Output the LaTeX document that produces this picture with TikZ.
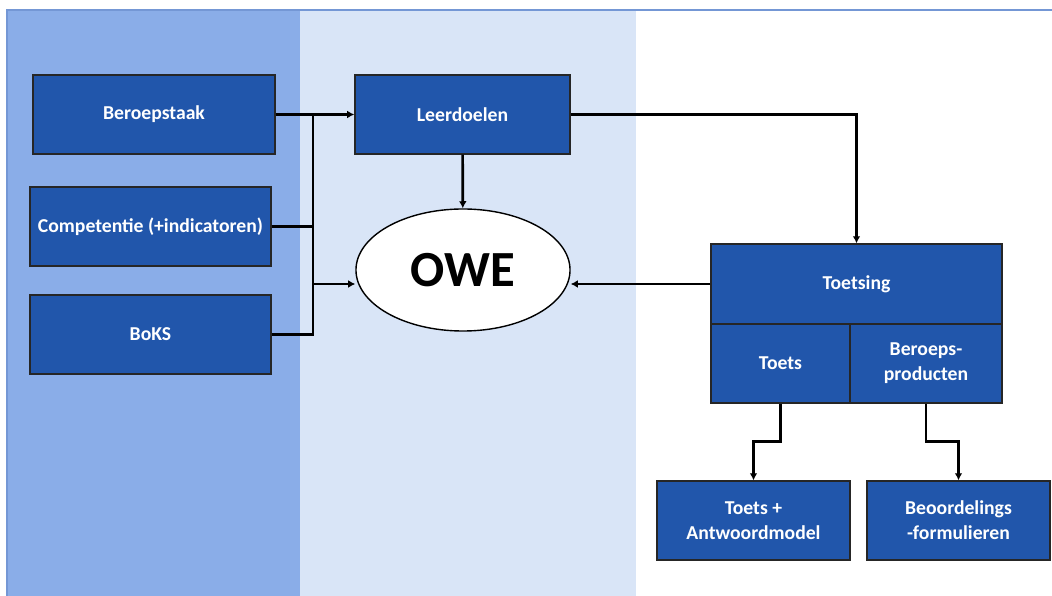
\documentclass[tikz,border=0pt]{standalone}
\usepackage{fontspec}
\setmainfont{Carlito}
\usepackage{xcolor}
\usetikzlibrary{arrows.meta,shadows,shapes.geometric}

\definecolor{vakblauw}{HTML}{8AADE8}
\definecolor{vaklicht}{HTML}{D9E5F7}
\definecolor{randblauw}{HTML}{7497D5}
\definecolor{blokblauw}{HTML}{2156AB}

\tikzset{
  blok/.style={draw=black!85, line width=1pt, fill=blokblauw, text=white,
    inner sep=0pt, minimum height=1.975cm, align=center,
    font=\fontsize{14}{18}\selectfont\bfseries,
    drop shadow={shadow xshift=0.8pt, shadow yshift=-0.8pt, opacity=0.35}},
  lijn/.style={line width=1.9pt, black},
  pijl/.style={lijn, -{Latex[length=5pt,width=5.5pt]}}
}

\begin{document}
\begin{tikzpicture}[x=0.025cm, y=-0.025cm]
            \useasboundingbox (0,0) rectangle (1052,596);
            % achtergrondvlakken
            \fill[vakblauw] (7,10) rectangle (300,596);
            \fill[vaklicht] (300,10) rectangle (636,596);
            \draw[randblauw, line width=1.5pt] (7,596) -- (7,10) -- (1052,10);

            % linker kolom
            \node[blok, minimum width=6.05cm] (beroepstaak) at (154,114.5) {Beroepstaak};
            \node[blok, minimum width=6.025cm] (competentie) at (150.5,226.5) {Competentie (+indicatoren)};
            \node[blok, minimum width=6.025cm] (boks) at (150.5,334.5) {BoKS};

            % midden
            \node[blok, minimum width=5.375cm] (leerdoelen) at (462.5,114.5) {Leerdoelen};
            \node[ellipse, draw=black, line width=1pt, fill=white, minimum width=5.35cm,
                  minimum height=3.05cm, inner sep=0pt,
                  font=\fontsize{36}{40}\selectfont\bfseries] (owe) at (463,270) {OWE};

            % toetsing
            \node[blok, minimum width=7.275cm, minimum height=2cm] (toetsing) at (856.5,284) {Toetsing};
            \node[blok, minimum width=3.475cm] (toets) at (780.5,363.5) {Toets};
            \node[blok, minimum width=3.8cm] (beroeps) at (926,363.5) {Beroeps-\\producten};
            \node[blok, minimum width=4.825cm] (antwoord) at (753.5,520.5) {Toets +\\Antwoordmodel};
            \node[blok, minimum width=4.575cm] (formulier) at (958.5,520.5) {Beoordelings\\-formulieren};

            % verbindingen
            \coordinate (bus) at (313,114.5);
            \coordinate (owe in) at (313,284);
            \draw[pijl] (beroepstaak.east) -- (leerdoelen.west);
            \draw[lijn] (boks.east) -| (bus);
            \draw[lijn] (competentie.east) -- (competentie.east -| bus);
            \draw[pijl] (owe in) -- (owe in -| owe.west);
            \draw[pijl] (leerdoelen) -- (owe);
            \draw[pijl] (leerdoelen.east) -| (toetsing.north);
            \draw[pijl] (toetsing.west) -- (toetsing.west -| owe.east);
            \draw[pijl] (toets.south) -- ++(0,38) -| (antwoord.north);
            \draw[pijl] (beroeps.south) -- ++(0,38) -| (formulier.north);
        \end{tikzpicture}
\end{document}
